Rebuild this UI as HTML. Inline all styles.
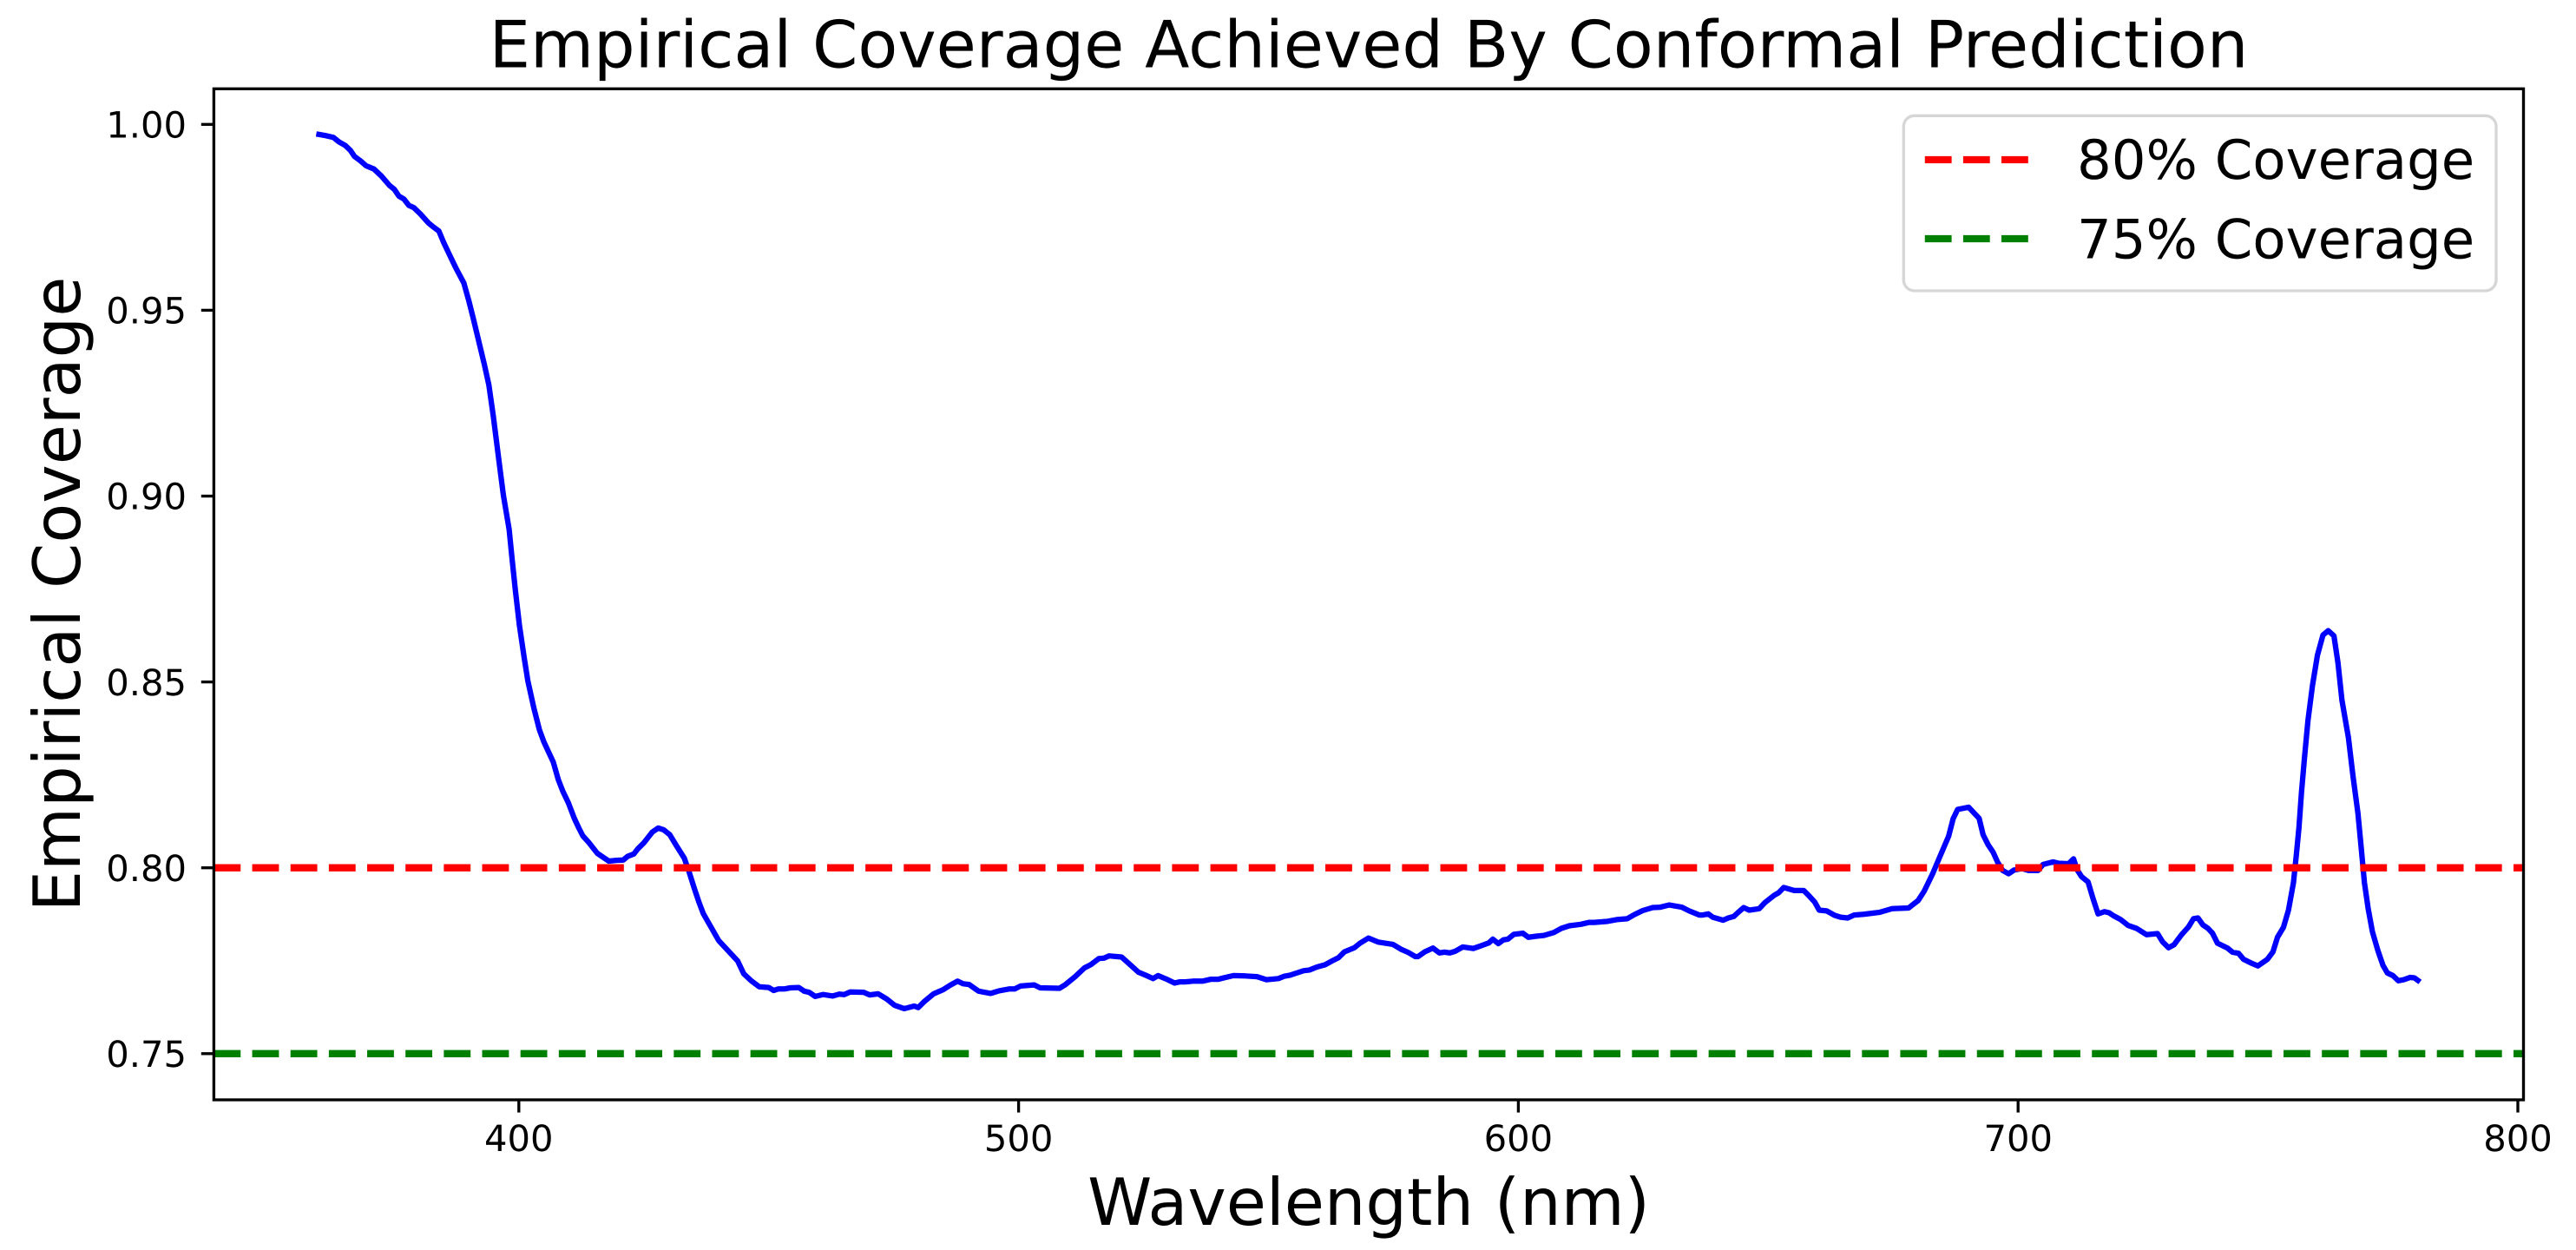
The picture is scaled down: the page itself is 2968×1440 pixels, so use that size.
<!DOCTYPE html>
<html lang="en">
<head>
<meta charset="utf-8">
<title>Empirical Coverage Achieved By Conformal Prediction</title>
<style>
html,body{margin:0;padding:0;background:#fff;width:2968px;height:1440px;overflow:hidden}
svg{display:block}
text{font-family:"DejaVu Sans","Liberation Sans",sans-serif;fill:#000;text-rendering:geometricPrecision}
</style>
</head>
<body>
<svg id="chart" xmlns="http://www.w3.org/2000/svg" width="2968" height="1440" viewBox="0 0 2968 1440">
  <rect x="0" y="0" width="2968" height="1440" fill="#fff"/>
  <text x="1577" y="77.5" font-size="75" text-anchor="middle">Empirical Coverage Achieved By Conformal Prediction</text>
  <text x="1577" y="1411" font-size="75" text-anchor="middle">Wavelength (nm)</text>
  <text transform="translate(92 684.5) rotate(-90)" font-size="75" text-anchor="middle">Empirical Coverage</text>
  <g id="series-layer"></g>
  <g id="tick-layer"></g>
  <rect x="246.4" y="102.3" width="2661.1" height="1164.7" fill="none" stroke="#000" stroke-width="3.33"/>
  <g id="legend">
    <rect x="2193.3" y="133.3" width="682.7" height="201.7" rx="12.5" ry="12.5" fill="#fff" fill-opacity="0.8" stroke="#d6d6d6" stroke-width="3.33"/>
    <line x1="2217.8" y1="184" x2="2342.8" y2="184" stroke="#ff0000" stroke-width="8.33" stroke-dasharray="30.8 13.3"/>
    <text x="2393" y="206" font-size="62.5">80% Coverage</text>
    <line x1="2217.8" y1="275" x2="2342.8" y2="275" stroke="#008000" stroke-width="8.33" stroke-dasharray="30.8 13.3"/>
    <text x="2393" y="297.3" font-size="62.5">75% Coverage</text>
  </g>
</svg>
<script>
const wavelengths = [
360,361.3,362.9,364.0,365.3,366.3,367.1,368.3,369.4,371.0,372.5,374.1,375.1,376.0,377.0,378.0,379.0,380.3,381.9,383.0,384.0,385.0,386.1,387.35,389.0,390.0,390.9,393.1,394.0,394.9,396.0,396.9,398.06,398.64,399.3,
400.1,401.0,401.8,403.0,404.1,405.0,406.9,407.9,408.8,409.9,411.1,412.0,412.8,414.0,415.7,418.0,419.5,420.9,421.8,423.0,423.8,425.0,426.7,427.9,429.0,430.2,431.6,433.1,434.0,435.1,436.0,436.9,438.0,440.0,441.8,443.8,
445.0,446.5,448.1,450.0,451.0,451.9,453.1,454.3,456.0,457.1,458.1,459.3,460.9,462.8,464.1,465.1,466.3,469.0,470.2,471.9,473.6,475.2,477.1,479.1,479.9,481.2,483.0,484.9,486.3,487.8,488.9,490.1,492.0,494.4,496.1,498.1,499.2,500.4,503.1,504.3,508.2,509.3,511.3,513.2,514.4,516.1,517.1,518.1,520.6,522.1,524.0,525.6,526.9,527.9,529.5,531.2,532.2,533.3,534.9,536.8,538.4,539.9,541.1,543.0,545.4,547.7,549.6,552.0,553.1,554.3,557.0,558.2,559.7,561.3,562.8,564.0,
565.2,567.2,568.3,570.0,572.0,574.9,576.5,578.0,579.4,579.9,581.3,582.9,584.2,585.2,586.3,587.3,588.9,591.0,592.7,594.1,594.9,596.0,597.0,597.9,599.1,600.9,602.0,603.6,605.1,607.1,608.6,610.2,612.5,614.1,615.2,617.9,619.9,621.8,623.2,624.9,626.9,628.4,630.2,632.7,634.2,636.2,636.9,638.0,638.9,641.0,642.0,643.1,643.9,645.1,646.2,648.2,649.3,651.3,652.1,653.1,655.2,657.1,658.2,659.3,660.2,661.7,663.3,664.5,665.9,667.2,669.1,672.2,674.8,
678.1,680.0,681.2,682.9,684.6,686.1,687.0,687.9,690.1,692.2,693.0,694.0,695.0,695.9,696.9,698.1,699.2,700.8,702.1,704.0,705.0,707.0,708.1,710.1,711.1,711.8,712.7,714.0,715.0,716.0,717.3,718.2,719.1,720.5,722.0,723.7,725.7,727.9,728.9,730.1,731.2,732.7,734.1,735.1,736.0,737.0,738.0,
738.9,739.9,741.9,742.9,744.1,745.1,746.6,748.0,749.9,751.0,751.9,753.1,754.1,755.1,755.7,756.2,756.7,757.3,758.0,758.9,759.9,761.0,762.06,763.2,764.0,764.8,766.1,767.0,768.0,768.6,769.3,770.05,770.9,772.0,773.0,773.9,775.0,776.1,777.2,778.4,779.3,780
];
const coverage = [
.9973,.9970,.9965,.9953,.9943,.9930,.9914,.9902,.9889,.9880,.9861,.9836,.9825,.9807,.9799,.9782,.9776,.9759,.9735,.9723,.9713,.9681,.9650,.9615,.9573,.9525,.9477,.9354,.9299,.9214,.9097,.9003,.8910,.8832,.8747,
.8654,.8571,.8503,.8430,.8372,.8339,.8284,.8237,.8206,.8175,.8133,.8107,.8086,.8068,.8039,.8018,.8020,.8021,.8031,.8037,.8051,.8067,.8096,.8107,.8102,.8089,.8058,.8026,.7992,.7945,.7909,.7877,.7851,.7804,.7778,.7749,
.7715,.7696,.7680,.7678,.7670,.7674,.7674,.7677,.7678,.7668,.7665,.7654,.7659,.7655,.7660,.7659,.7666,.7665,.7658,.7661,.7647,.7630,.7621,.7628,.7624,.7641,.7661,.7672,.7684,.7695,.7688,.7686,.7668,.7662,.7669,.7674,.7674,.7682,.7685,.7677,.7676,.7685,.7707,.7731,.7739,.7756,.7757,.7763,.7760,.7742,.7719,.7710,.7702,.7710,.7701,.7690,.7693,.7693,.7695,.7695,.7700,.7700,.7704,.7710,.7709,.7707,.7699,.7702,.7708,.7711,.7723,.7725,.7733,.7739,.7750,.7758,
.7774,.7785,.7797,.7811,.7800,.7794,.7781,.7772,.7761,.7761,.7774,.7784,.7771,.7773,.7771,.7775,.7787,.7783,.7791,.7798,.7808,.7796,.7806,.7808,.7821,.7824,.7813,.7816,.7818,.7826,.7837,.7844,.7848,.7853,.7853,.7856,.7861,.7863,.7874,.7885,.7893,.7894,.7900,.7894,.7884,.7873,.7873,.7876,.7867,.7859,.7865,.7869,.7879,.7893,.7886,.7890,.7906,.7927,.7933,.7947,.7939,.7939,.7924,.7908,.7886,.7884,.7872,.7867,.7865,.7873,.7875,.7880,.7890,
.7892,.7912,.7937,.7984,.8038,.8085,.8132,.8157,.8163,.8133,.8089,.8062,.8042,.8015,.7993,.7984,.7994,.7998,.7993,.7993,.8009,.8016,.8012,.8011,.8024,.7995,.7976,.7962,.7917,.7876,.7882,.7879,.7871,.7861,.7845,.7837,.7820,.7823,.7801,.7785,.7793,.7820,.7841,.7863,.7865,.7846,.7837,
.7824,.7797,.7784,.7773,.7770,.7754,.7744,.7736,.7754,.7774,.7813,.7840,.7886,.7960,.8038,.8108,.8202,.8295,.8396,.8490,.8572,.8626,.8638,.8624,.8552,.8451,.8350,.8248,.8147,.8062,.7960,.7890,.7828,.7777,.7738,.7717,.7710,.7696,.7699,.7705,.7704,.7697
];
const referenceLevels = [0.80, 0.75];
const referenceNames = ['reference-line-80', 'reference-line-75'];
const referenceColors = ['#ff0000', '#008000'];
const xTicks = [400, 500, 600, 700, 800];
const yTicks = [0.75, 0.80, 0.85, 0.90, 0.95, 1.00];
const yTickLabels = ['0.75', '0.80', '0.85', '0.90', '0.95', '1.00'];

const NS = 'http://www.w3.org/2000/svg';
const plotLeft = 246.4, plotRight = 2907.5, plotTop = 102.3, plotBottom = 1267;
function xScale(nm) { return 597.8 + (nm - 400) * 5.758; }
function yScale(v) { return 143.3 + (1 - v) * 4282; }

const seriesLayer = document.getElementById('series-layer');
const tickLayer = document.getElementById('tick-layer');

const curve = document.createElementNS(NS, 'path');


curve.setAttribute('d', wavelengths.map((nm, i) => (i ? 'L' : 'M') + xScale(nm).toFixed(2) + ' ' + yScale(coverage[i]).toFixed(2)).join(''));
curve.setAttribute('fill', 'none');
curve.setAttribute('stroke', '#0000ff');
curve.setAttribute('stroke-width', '6.25');
curve.setAttribute('stroke-linejoin', 'round');
curve.setAttribute('stroke-linecap', 'square');
seriesLayer.appendChild(curve);

referenceLevels.forEach((level, i) => {
  const rule = document.createElementNS(NS, 'line');
  
  
  rule.setAttribute('x1', plotLeft);
  rule.setAttribute('x2', plotRight);
  rule.setAttribute('y1', yScale(level));
  rule.setAttribute('y2', yScale(level));
  rule.setAttribute('stroke', referenceColors[i]);
  rule.setAttribute('stroke-width', '8.33');
  rule.setAttribute('stroke-dasharray', '30.83 13.33');
  seriesLayer.appendChild(rule);
});

xTicks.forEach((tick) => {
  const px = xScale(tick);
  const mark = document.createElementNS(NS, 'line');
  
  
  mark.setAttribute('x1', px);
  mark.setAttribute('x2', px);
  mark.setAttribute('y1', plotBottom);
  mark.setAttribute('y2', plotBottom + 14.6);
  mark.setAttribute('stroke', '#000');
  mark.setAttribute('stroke-width', '3.33');
  tickLayer.appendChild(mark);
  const label = document.createElementNS(NS, 'text');
  
  
  label.setAttribute('x', px);
  label.setAttribute('y', 1326);
  label.setAttribute('font-size', '41.67');
  label.setAttribute('text-anchor', 'middle');
  label.textContent = String(tick);
  tickLayer.appendChild(label);
});

yTicks.forEach((tick, i) => {
  const py = yScale(tick);
  const mark = document.createElementNS(NS, 'line');
  
  
  mark.setAttribute('x1', plotLeft - 14.6);
  mark.setAttribute('x2', plotLeft);
  mark.setAttribute('y1', py);
  mark.setAttribute('y2', py);
  mark.setAttribute('stroke', '#000');
  mark.setAttribute('stroke-width', '3.33');
  tickLayer.appendChild(mark);
  const label = document.createElementNS(NS, 'text');
  
  
  label.setAttribute('x', 215);
  label.setAttribute('y', py + 15.2);
  label.setAttribute('font-size', '41.67');
  label.setAttribute('text-anchor', 'end');
  label.textContent = yTickLabels[i];
  tickLayer.appendChild(label);
});
</script>
</body>
</html>
